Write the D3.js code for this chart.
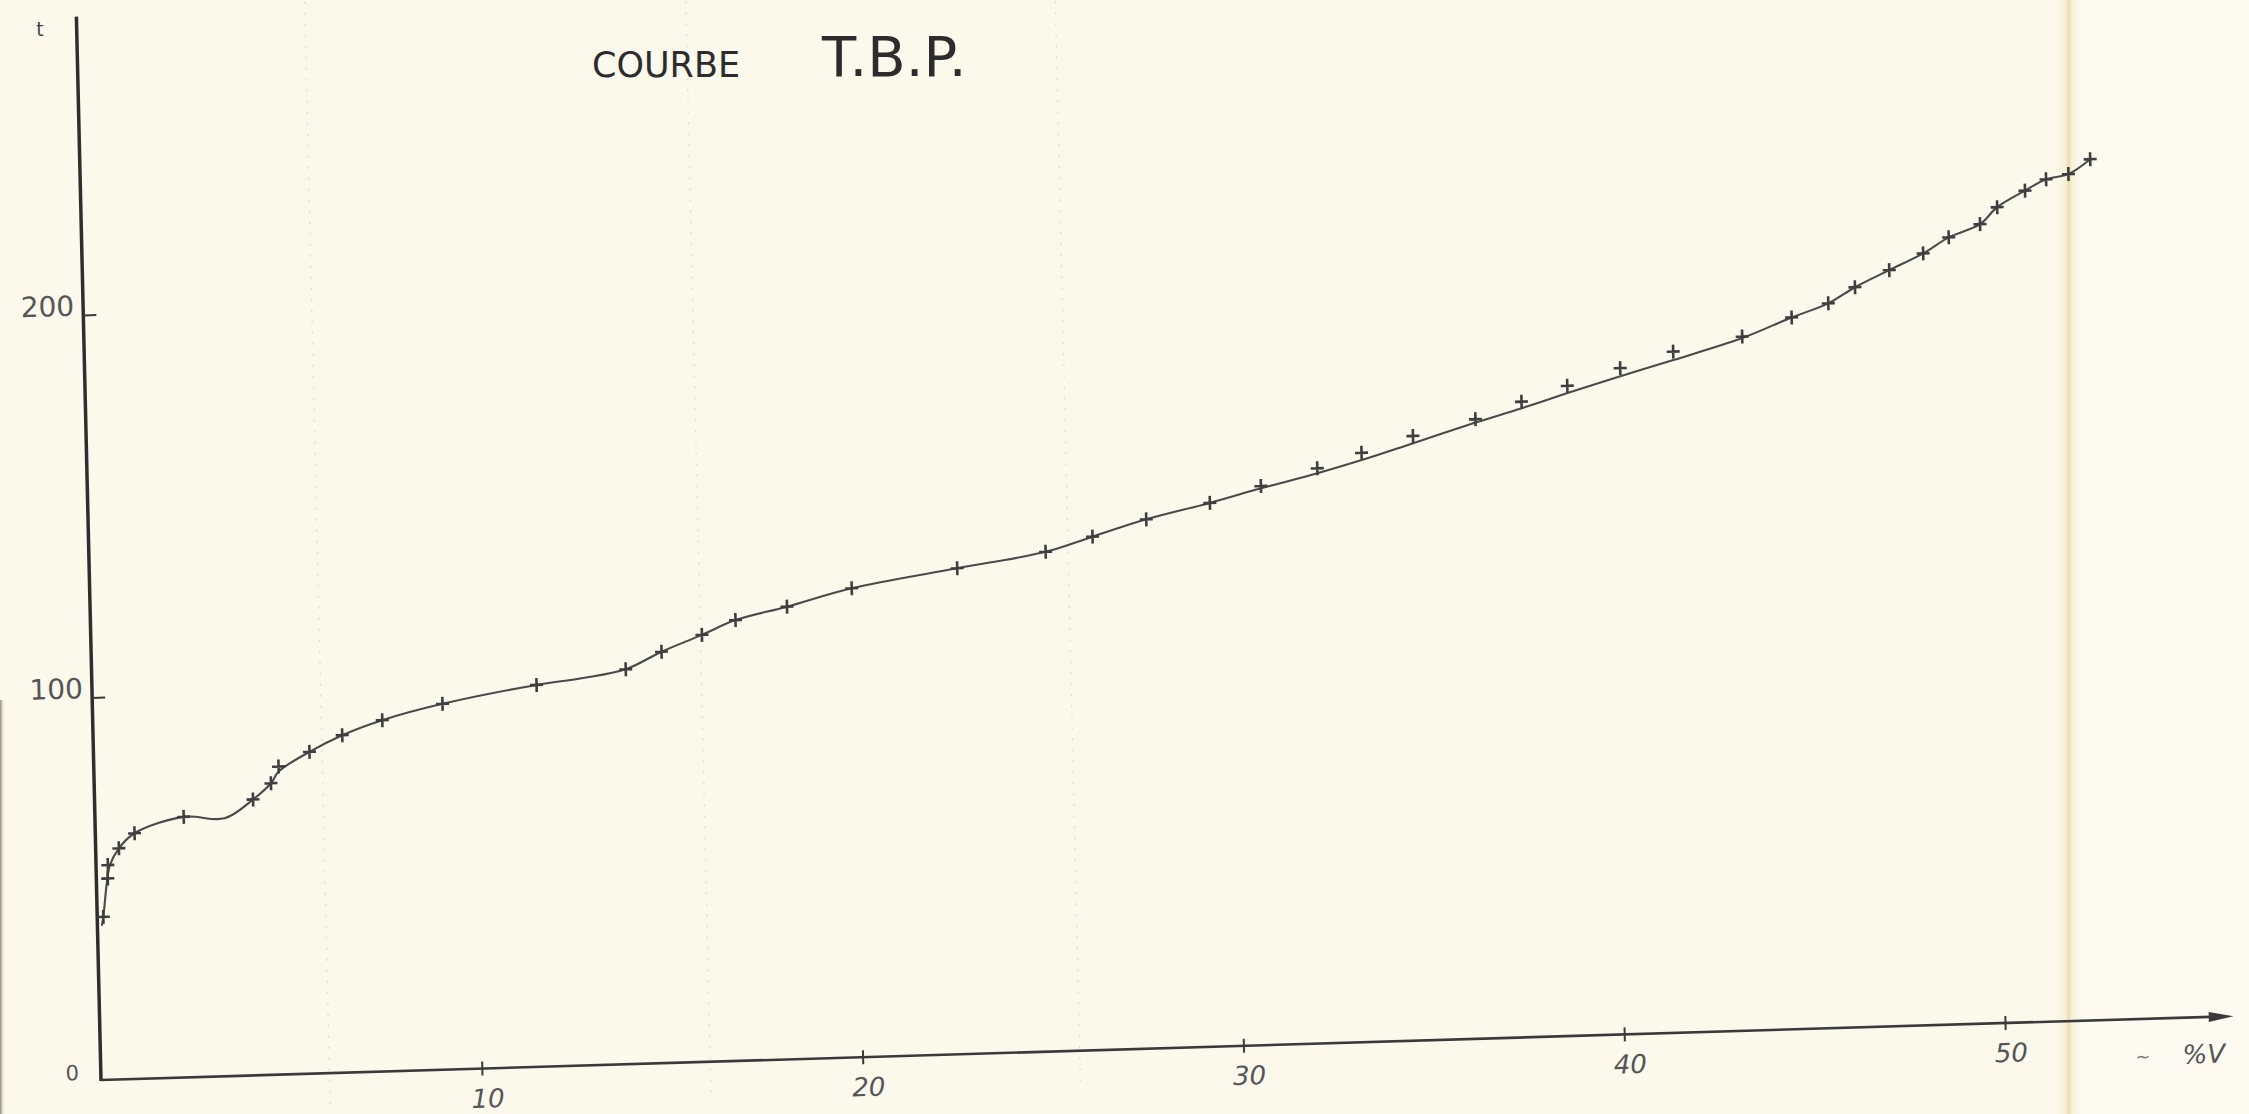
<!DOCTYPE html>
<html><head><meta charset="utf-8">
<script src="https://cdn.jsdelivr.net/npm/d3@7"></script>
<style>html,body{margin:0;padding:0;background:#FBF8EC;overflow:hidden}</style>
</head><body>
<svg id="c" width="2249" height="1114"></svg>
<script>
// measured points (+ markers): % volume distilled vs temperature
const pctV = [0.16,0.30,0.31,0.61,1.03,2.33,4.16,4.64,4.85,5.67,6.54,7.60,9.19,11.67,14.02,14.97,16.04,16.93,18.29,20.0,22.78,25.11,26.35,27.77,29.45,30.8,32.29,33.46,34.82,36.47,37.69,38.9,40.3,41.7,43.52,44.83,45.8,46.51,47.42,48.32,49.0,49.83,50.29,51.03,51.59,52.18,52.76];
const tempC = [42.6,52.6,56.1,60.4,64.2,68.1,72.1,76.2,80.5,84.1,88.2,91.8,95.6,99.8,103.2,107.5,111.6,115.2,118.3,122.6,127.0,130.6,134.2,138.3,142.1,146.1,150.3,154.0,158.0,161.9,166.1,169.9,174.1,178.0,181.4,186.0,189.4,193.4,197.6,201.7,205.7,208.9,213.2,217.3,220.1,221.3,225.0];
// hand-drawn smoothed curve
const curvePct = [0.12,0.16,0.28,0.36,0.61,1.03,2.33,3.4,4.16,4.64,4.85,5.67,6.54,7.60,9.19,11.67,12.85,14.02,14.97,16.04,16.93,18.29,20.0,22.78,25.11,26.35,27.77,29.45,30.8,32.29,33.46,34.82,36.47,37.69,38.9,40.3,41.7,43.52,44.83,45.8,46.51,47.42,48.32,49.0,49.83,50.29,51.03,51.59,52.18,52.76];
const curveTemp = [40.5,42.6,52,56,60.4,64.2,68.1,67.4,72.1,76.2,79.2,84.1,88.2,91.8,95.6,99.8,101.2,103.2,107.5,111.6,115.2,118.3,122.6,127.0,130.6,134.2,138.3,142.1,145.5,149.0,152.1,156.1,161.0,164.4,168.0,172.0,175.8,181.0,186.0,189.4,193.4,197.6,201.7,205.7,208.9,213.2,217.3,220.1,221.3,225.0];
const xTicks = [10,20,30,40,50];
const yTicks = [0,100,200];
const gridPct = [6,16,25.7];
const titleA = "COURBE", titleB = "T.B.P.";
const xUnit = "%V", yUnit = "t";

const W = 2249, H = 1114;
const svg = d3.select('#c');
const defs = svg.append('defs');
const fold = defs.append('linearGradient').attr('id','fold').attr('x1','0').attr('x2','1');
[[0,'#FBF8EC'],[0.38,'#F7F0D6'],[0.48,'#EBDDB0'],[0.52,'#EEE1B6'],[0.62,'#F8F2DA'],[1,'#FCFAF1']]
  .forEach(s=>fold.append('stop').attr('offset',s[0]).attr('stop-color',s[1]));
const edge = defs.append('linearGradient').attr('id','edge').attr('x1','0').attr('x2','1');
edge.append('stop').attr('offset',0).attr('stop-color','#8a8678');
edge.append('stop').attr('offset',1).attr('stop-color','#FBF8EC').attr('stop-opacity',0);

svg.append('rect').attr('width',W).attr('height',H).attr('fill','#FBF8EC');
svg.append('rect').attr('x',2080).attr('width',W-2080).attr('height',H).attr('fill','#FCFAF1');
svg.append('rect').attr('x',2056).attr('width',26).attr('height',H).attr('fill','url(#fold)');
svg.append('rect').attr('x',0).attr('y',700).attr('width',5).attr('height',H-700).attr('fill','url(#edge)');

const x = d3.scaleLinear().domain([0,10]).range([0,380.8]);
const y = d3.scaleLinear().domain([0,100]).range([0,-382.5]);
const g = svg.append('g').attr('transform','matrix(1,-0.02994,0.02314,1,101,1080)');

// faint pencil guide lines
g.selectAll('.grid').data(gridPct).join('line')
  .attr('x1',d=>x(d)).attr('x2',d=>x(d)).attr('y1',y(-8)).attr('y2',y(288))
  .attr('stroke','#cfcabb').attr('stroke-width',1.3).attr('stroke-dasharray','2,9').attr('opacity',0.6);

// axes lines
g.append('line').attr('x1',0).attr('y1',1).attr('x2',0).attr('y2',y(278))
  .attr('stroke','#2e2e2e').attr('stroke-width',3.5);
g.append('line').attr('x1',0).attr('y1',0).attr('x2',x(55.4)).attr('y2',0)
  .attr('stroke','#3a3a3a').attr('stroke-width',2.6);
g.append('path').attr('d',`M${x(56)},0L${x(55.35)},-5L${x(55.35)},5Z`).attr('fill','#3a3a3a');

const lblFont = 'DejaVu Sans';
const xa = g.append('g').call(d3.axisBottom(x).tickValues(xTicks).tickSize(7).tickFormat(d3.format('d')));
xa.select('.domain').remove();
xa.selectAll('.tick line').attr('y1',-7).attr('stroke','#3a3a3a').attr('stroke-width',2);
xa.selectAll('.tick text').attr('y',39).attr('dy',0).attr('x',5)
  .attr('fill','#555').attr('font-family',lblFont).attr('font-size',26).attr('font-style','italic');

const ya = g.append('g').call(d3.axisLeft(y).tickValues(yTicks).tickSize(6).tickFormat(d3.format('d')));
ya.select('.domain').remove();
ya.selectAll('.tick line').attr('x2',13).attr('stroke','#3a3a3a').attr('stroke-width',2)
  .attr('display',d=>d===0?'none':null);
ya.selectAll('.tick text').attr('x',d=>d===0?-22:-9).attr('dy',0).attr('y',d=>d===0?-1:0)
  .attr('fill','#555').attr('font-family',lblFont).attr('font-size',d=>d===0?21:28);

// curve
const pts = curvePct.map((v,i)=>[v,curveTemp[i]]);
g.append('path').datum(pts)
  .attr('d',d3.line().x(d=>x(d[0])).y(d=>y(d[1])).curve(d3.curveCatmullRom.alpha(0.5)))
  .attr('fill','none').attr('stroke','#4a4a4a').attr('stroke-width',2.1).attr('stroke-linecap','round');

// markers
g.selectAll('.pt').data(pctV.map((v,i)=>[v,tempC[i]])).join('path')
  .attr('transform',d=>`translate(${x(d[0])},${y(d[1])})`)
  .attr('d','M-6.5,0H6.5M0,-7V7')
  .attr('stroke','#3e3e3e').attr('stroke-width',2.6).attr('fill','none');

// unit labels
g.append('text').attr('x',x(55.2)).attr('y',46).attr('text-anchor','middle')
  .attr('font-family',lblFont).attr('font-size',26).attr('font-style','italic').attr('fill','#555').text(xUnit);
g.append('text').attr('x',x(53.6)).attr('y',44).attr('text-anchor','middle')
  .attr('font-family',lblFont).attr('font-size',18).attr('fill','#777').text('~');
svg.append('text').attr('x',40).attr('y',36).attr('text-anchor','middle')
  .attr('font-family',lblFont).attr('font-size',19).attr('fill','#444').text(yUnit);

// title
svg.append('text').attr('x',592).attr('y',77).attr('font-family',lblFont).attr('font-size',35)
  .attr('fill','#2c2c2c').text(titleA);
svg.append('text').attr('x',822).attr('y',76).attr('font-family',lblFont).attr('font-size',56)
  .attr('fill','#2c2c2c').text(titleB);
</script>
</body></html>
